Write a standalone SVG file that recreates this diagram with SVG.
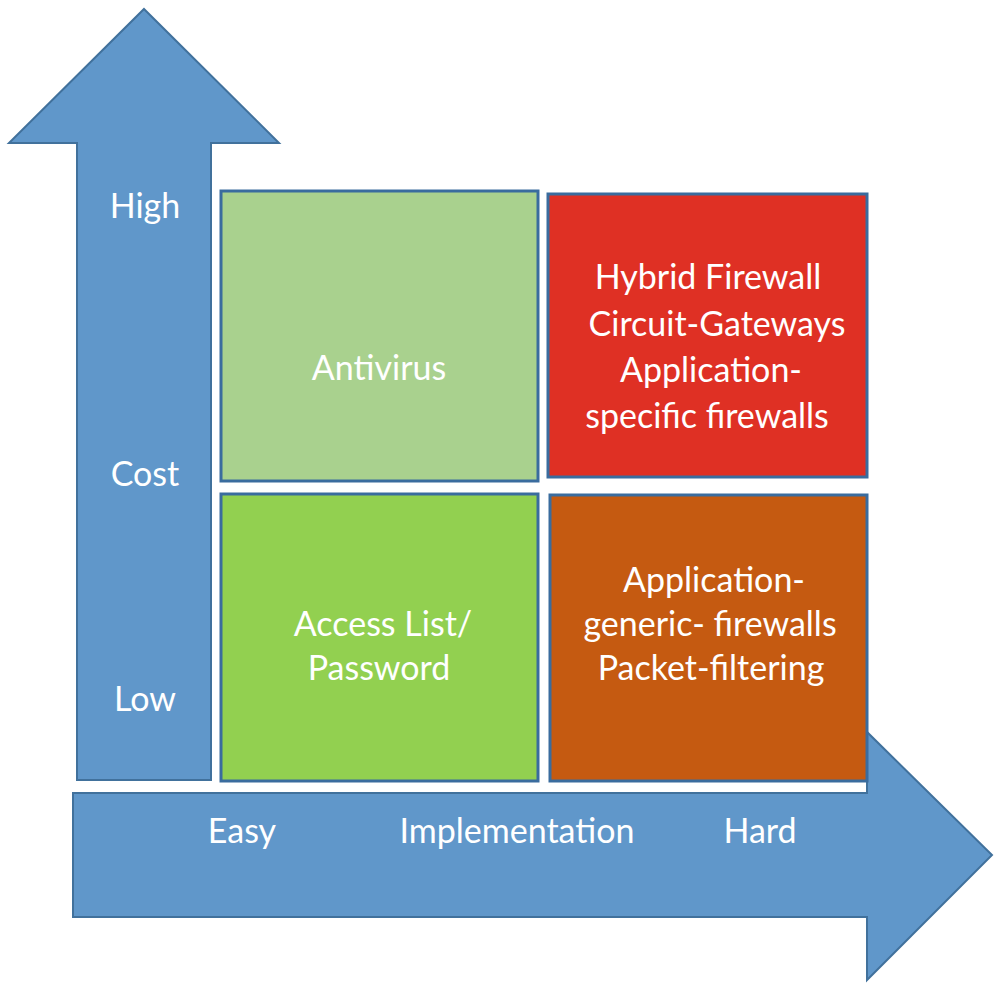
<svg xmlns="http://www.w3.org/2000/svg" width="1000" height="989" viewBox="0 0 1000 989">
<style>
.arrow{fill:#6097CA;stroke:#41719C;stroke-width:2}
.box{stroke:#3A6C9E;stroke-width:3}
text{font-family:Lato,"Open Sans","Liberation Sans",sans-serif;font-size:34px;fill:#FFFFFF;text-anchor:middle}
</style>
<rect width="1000" height="989" fill="#FFFFFF"/>
<g id="connectors">
<path id="axis-cost" class="arrow" d="M144,9 L279,143 L211,143 L211,780 L77,780 L77,143 L9,143 Z"/>
<path id="axis-implementation" class="arrow" d="M73,793 L867,793 L867,732 L992,855 L867,980 L867,917 L73,917 Z"/>
</g>
<g id="axis-labels">
<text x="145" y="218">High</text>
<text x="145" y="486">Cost</text>
<text x="145" y="711">Low</text>
<text x="242" y="843">Easy</text>
<text x="517" y="843">Implementation</text>
<text x="760" y="843">Hard</text>
</g>
<g id="antivirus">
<rect class="box" x="221" y="191" width="317" height="290" fill="#A9D18E"/>
<text x="379" y="380">Antivirus</text>
</g>
<g id="firewalls-high">
<rect class="box" x="548" y="194" width="319" height="283" fill="#DF3024"/>
<text x="708" y="289">Hybrid Firewall</text>
<text x="717" y="336">Circuit-Gateways</text>
<text x="711" y="382">Application-</text>
<text x="707" y="428">specific firewalls</text>
</g>
<g id="access-list">
<rect class="box" x="221" y="494" width="317" height="287" fill="#92D050"/>
<text x="383" y="636">Access List/</text>
<text x="379" y="680">Password</text>
</g>
<g id="firewalls-low">
<rect class="box" x="550" y="495" width="317" height="286" fill="#C55A11"/>
<text x="714" y="592">Application-</text>
<text x="710" y="636">generic- firewalls</text>
<text x="711" y="680">Packet-filtering</text>
</g>
</svg>
